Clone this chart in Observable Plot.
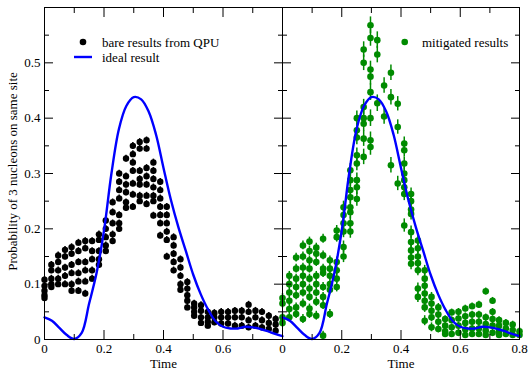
<!DOCTYPE html>
<html><head><meta charset="utf-8">
<script src="https://cdn.jsdelivr.net/npm/d3@7"></script>
<script src="https://cdn.jsdelivr.net/npm/@observablehq/plot@0.6"></script>
<style>
body{margin:0;background:#fff;}
#wrap{position:relative;width:528px;height:369px;overflow:hidden;background:#fff;}
#wrap svg{position:absolute;top:0;}
#wrap svg text{font-family:"Liberation Serif","Times New Roman",Times,serif !important;}
</style></head><body><div id="wrap"></div>
<script>
// ---- data ----
const times = [0, 0.023, 0.046, 0.069, 0.091, 0.114, 0.137, 0.16, 0.183, 0.206, 0.229, 0.251, 0.274, 0.297, 0.32, 0.343, 0.366, 0.389, 0.411, 0.434, 0.457, 0.48, 0.503, 0.526, 0.549, 0.571, 0.594, 0.617, 0.64, 0.663, 0.686, 0.709, 0.731, 0.754, 0.777, 0.8];

const bare = [
  [0.108, 0.097, 0.088, 0.080, 0.075],
  [0.135, 0.125, 0.11, 0.10, 0.095],
  [0.152, 0.14, 0.125, 0.11, 0.10],
  [0.162, 0.15, 0.13, 0.115, 0.10],
  [0.167, 0.155, 0.135, 0.12, 0.10, 0.088],
  [0.175, 0.16, 0.14, 0.12, 0.105, 0.088],
  [0.178, 0.165, 0.14, 0.125, 0.105, 0.083],
  [0.178, 0.16, 0.145, 0.125, 0.11],
  [0.19, 0.18, 0.16, 0.145, 0.135],
  [0.215, 0.2, 0.185, 0.17, 0.16],
  [0.248, 0.23, 0.21, 0.19, 0.178],
  [0.30, 0.285, 0.27, 0.255, 0.225, 0.21, 0.20],
  [0.327, 0.295, 0.28, 0.266, 0.248, 0.238],
  [0.35, 0.335, 0.32, 0.305, 0.282, 0.262, 0.24],
  [0.357, 0.345, 0.305, 0.29, 0.28, 0.26, 0.25],
  [0.36, 0.345, 0.31, 0.295, 0.28, 0.26, 0.245],
  [0.32, 0.305, 0.29, 0.275, 0.26, 0.25, 0.224],
  [0.285, 0.27, 0.255, 0.24, 0.225, 0.21, 0.188],
  [0.24, 0.225, 0.21, 0.195, 0.18, 0.15],
  [0.185, 0.17, 0.155, 0.14, 0.125],
  [0.145, 0.13, 0.115, 0.10, 0.09],
  [0.104, 0.092, 0.08, 0.07, 0.058],
  [0.065, 0.058, 0.05, 0.043],
  [0.062, 0.052, 0.04, 0.03],
  [0.05, 0.04, 0.032, 0.025],
  [0.048, 0.04, 0.031],
  [0.05, 0.04, 0.029],
  [0.05, 0.04, 0.029],
  [0.052, 0.04, 0.025],
  [0.052, 0.04, 0.025],
  [0.063, 0.05, 0.035, 0.022],
  [0.052, 0.04, 0.025],
  [0.05, 0.035, 0.022],
  [0.043, 0.03, 0.019],
  [0.037, 0.027, 0.016]
];
const bareErr = 0.006;

const mitigated = [
  [0.075, 0.065, 0.04, 0.03],
  [0.115, 0.10, 0.085, 0.07, 0.055, 0.04],
  [0.148, 0.128, 0.11, 0.095, 0.08, 0.058, 0.046],
  [0.17, 0.15, 0.13, 0.115, 0.10, 0.085, 0.065, 0.037],
  [0.177, 0.16, 0.143, 0.128, 0.11, 0.092, 0.077, 0.056, 0.046],
  [0.166, 0.155, 0.14, 0.115, 0.10, 0.085, 0.068, 0.043],
  [0.182, 0.152, 0.128, 0.12, 0.095, 0.077, 0.062, 0.007],
  [0.143, 0.128, 0.115, 0.10, 0.09, 0.046],
  [0.197, 0.185, 0.14, 0.125, 0.11, 0.095],
  [0.239, 0.225, 0.21, 0.195, 0.167, 0.15],
  [0.306, 0.288, 0.27, 0.257, 0.239, 0.23, 0.21, 0.195],
  [0.40, 0.378, 0.365, 0.333, 0.318, 0.288, 0.275, 0.254],
  [0.524, 0.50, 0.42, 0.40, 0.39, 0.363, 0.33],
  [0.568, 0.545, 0.488, 0.475, 0.447, 0.40, 0.36, 0.348],
  [0.541, 0.515, 0.427],
  [0.459, 0.403],
  [0.482, 0.438, 0.315],
  [0.426, 0.384, 0.282],
  [0.354, 0.342, 0.318, 0.30, 0.288, 0.275, 0.263, 0.206],
  [0.263, 0.25, 0.235, 0.227, 0.194, 0.176, 0.161, 0.148, 0.137],
  [0.179, 0.165, 0.15, 0.138, 0.125, 0.092, 0.077],
  [0.125, 0.11, 0.097, 0.083, 0.07, 0.058, 0.034],
  [0.077, 0.065, 0.052, 0.04, 0.022],
  [0.058, 0.045, 0.032, 0.019],
  [0.037, 0.025, 0.015, 0.01],
  [0.049, 0.035, 0.022, 0.01],
  [0.05, 0.038, 0.025, 0.012],
  [0.056, 0.042, 0.03, 0.018, 0.008],
  [0.06, 0.045, 0.032, 0.02, 0.01],
  [0.063, 0.045, 0.032, 0.02, 0.01],
  [0.087, 0.04, 0.028, 0.016, 0.008],
  [0.07, 0.05, 0.037, 0.025, 0.012],
  [0.035, 0.025, 0.015, 0.008],
  [0.03, 0.02, 0.01],
  [0.027, 0.017, 0.008],
  [0.015, 0.008]
];
const mitigatedErr = [0.008, 0.008, 0.008, 0.008, 0.008, 0.008, 0.008, 0.008, 0.009, 0.011, 0.012, 0.013, 0.014, 0.015, 0.015, 0.014, 0.014, 0.013, 0.012, 0.011, 0.01, 0.009, 0.008, 0.007, 0.006, 0.006, 0.006, 0.006, 0.006, 0.006, 0.006, 0.006, 0.006, 0.006, 0.006, 0.006];

const idealT = [0, 0.025, 0.05, 0.075, 0.1, 0.125, 0.15, 0.175, 0.2, 0.225, 0.25, 0.275, 0.3, 0.325, 0.35, 0.375, 0.4, 0.425, 0.45, 0.475, 0.5, 0.525, 0.55, 0.575, 0.6, 0.625, 0.65, 0.675, 0.7, 0.725, 0.75, 0.775, 0.8];
const idealY = [0.040, 0.034, 0.021, 0.008, 0.001, 0.012, 0.065, 0.120, 0.197, 0.300, 0.380, 0.422, 0.438, 0.434, 0.412, 0.370, 0.310, 0.252, 0.203, 0.160, 0.117, 0.082, 0.054, 0.033, 0.023, 0.020, 0.020, 0.023, 0.022, 0.019, 0.015, 0.010, 0.006];

const xMajor = [0, 0.2, 0.4, 0.6, 0.8];
const xMinor = [0.1, 0.3, 0.5, 0.7];
const xLabelsLeft = [0, 0.2, 0.4, 0.6];
const xLabelsRight = [0, 0.2, 0.4, 0.6, 0.8];
const yMajor = [0, 0.1, 0.2, 0.3, 0.4, 0.5];
const yMinor = [0.05, 0.15, 0.25, 0.35, 0.45, 0.55];
const xTitle = "Time";
const yTitle = "Probability of 3 nucleons on same site";
const legendBare = "bare results from QPU";
const legendIdeal = "ideal result";
const legendMit = "mitigated results";

// ---- tables ----
const bareRows = bare.flatMap((col, i) => col.map(v => ({t: times[i], v, e: bareErr})));
const mitRows = mitigated.flatMap((col, i) => col.map(v => ({t: times[i], v, e: mitigatedErr[i]})));
const idealRows = idealT.map((t, i) => ({t, v: idealY[i]}));

const BLUE = "#0000ff", GREEN = "#008b00", FONT = "'Liberation Serif', 'Times New Roman', Times, serif";
const fmt = d => String(d);
const noText = () => "";

function frameMarks(xLabels, showY) {
  return [
    Plot.axisX(xMajor, {anchor: "bottom", tickSize: -9, tickFormat: noText, label: null}),
    Plot.axisX(xMinor, {anchor: "bottom", tickSize: -5, tickFormat: noText, label: null}),
    Plot.axisX(xMajor, {anchor: "top", tickSize: -9, tickFormat: noText, label: null}),
    Plot.axisX(xMinor, {anchor: "top", tickSize: -5, tickFormat: noText, label: null}),
    Plot.axisY(yMajor, {anchor: "left", tickSize: -9, tickFormat: noText, label: null}),
    Plot.axisY(yMinor, {anchor: "left", tickSize: -5, tickFormat: noText, label: null}),
    Plot.axisY(yMajor, {anchor: "right", tickSize: -9, tickFormat: noText, label: null}),
    Plot.axisY(yMinor, {anchor: "right", tickSize: -5, tickFormat: noText, label: null}),
    Plot.axisX(xLabels, {anchor: "bottom", tickSize: 0, tickPadding: 4, tickFormat: fmt, label: null, fill: "black", fontSize: 13}),
    showY ? Plot.axisY(yMajor, {anchor: "left", tickSize: 0, tickPadding: 4, tickFormat: fmt, label: null, fill: "black", fontSize: 13}) : null,
    Plot.text([xTitle], {frameAnchor: "bottom", dy: 28, lineAnchor: "bottom", textAnchor: "middle", fill: "black", fontSize: 13}),
    Plot.frame({stroke: "black", strokeWidth: 1})
  ];
}

function legend(items) {
  return () => {
    const g = d3.create("svg:g").attr("font-size", 13);
    for (const it of items) {
      if (it.type === "dot") g.append("circle").attr("cx", it.x).attr("cy", it.y).attr("r", 3.3).attr("fill", it.color);
      else g.append("line").attr("x1", it.x - 9).attr("x2", it.x + 9).attr("y1", it.y).attr("y2", it.y).attr("stroke", it.color).attr("stroke-width", 2.4);
      g.append("text").attr("x", it.tx).attr("y", it.y + 4.5).attr("text-anchor", "start").attr("fill", "black").text(it.label);
    }
    return g.node();
  };
}

const common = {
  height: 369, marginTop: 7, marginBottom: 30,
  x: {domain: [0, 0.8]}, y: {domain: [0, 0.6]},
  style: {fontFamily: FONT, fontSize: "13px", background: "transparent", overflow: "visible", color: "black"}
};

const left = Plot.plot({
  ...common,
  width: 283, marginLeft: 44, marginRight: 1,
  marks: [
    Plot.ruleX(bareRows, {x: "t", y1: d => d.v - d.e, y2: d => d.v + d.e, stroke: "black", strokeWidth: 1.5}),
    Plot.dot(bareRows, {x: "t", y: "v", r: 3.2, fill: "black", stroke: "none"}),
    Plot.line(idealRows, {x: "t", y: "v", stroke: BLUE, strokeWidth: 2.4, curve: "catmull-rom"}),
    ...frameMarks(xLabelsLeft, true),
    Plot.text([yTitle], {frameAnchor: "left", dx: -32, dy: -2, rotate: -90, textAnchor: "middle", fill: "black", fontSize: 13}),
    legend([
      {type: "dot", x: 83, y: 42, tx: 102, color: "black", label: legendBare},
      {type: "line", x: 83, y: 57, tx: 102, color: BLUE, label: legendIdeal}
    ])
  ]
});
left.style.left = "0px";

const right = Plot.plot({
  ...common,
  width: 266, marginLeft: 20, marginRight: 9,
  marks: [
    Plot.ruleX(mitRows, {x: "t", y1: d => d.v - d.e, y2: d => d.v + d.e, stroke: GREEN, strokeWidth: 1.5}),
    Plot.dot(mitRows, {x: "t", y: "v", r: 3.3, fill: GREEN, stroke: "none"}),
    Plot.line(idealRows, {x: "t", y: "v", stroke: BLUE, strokeWidth: 2.4, curve: "catmull-rom"}),
    ...frameMarks(xLabelsRight, false),
    legend([
      {type: "dot", x: 404.7 - 262, y: 42, tx: 422 - 262, color: GREEN, label: legendMit}
    ])
  ]
});
right.style.left = "262px";

const wrap = document.getElementById("wrap");
wrap.appendChild(left);
wrap.appendChild(right);
</script></body></html>
